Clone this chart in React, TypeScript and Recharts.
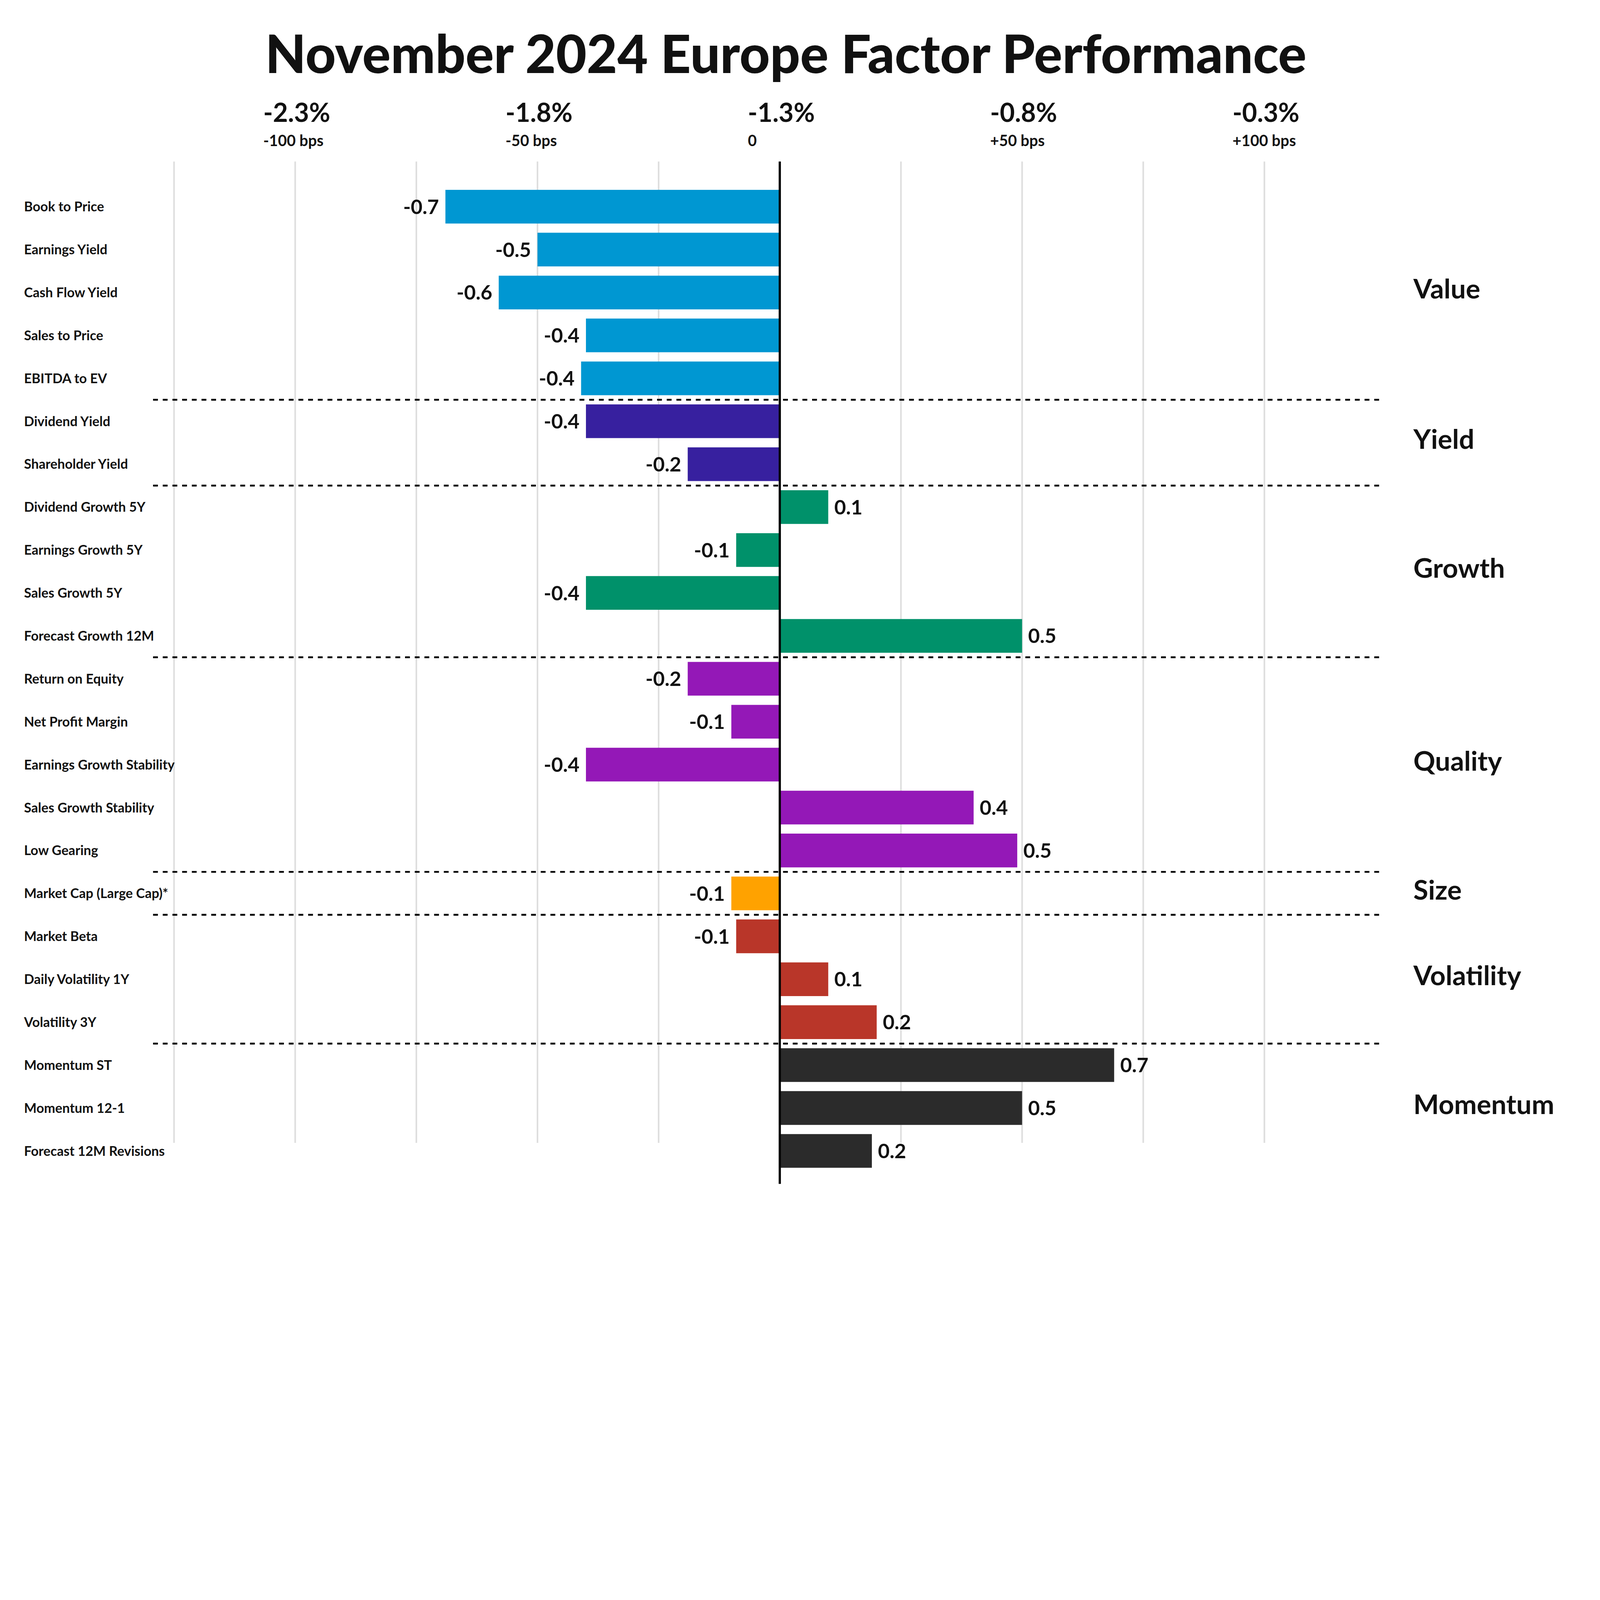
import {
  BarChart, Bar, XAxis, YAxis, Cell, LabelList, ReferenceLine, CartesianGrid,
} from "recharts";

// factor names, top to bottom
const factors = [
  "Book to Price", "Earnings Yield", "Cash Flow Yield", "Sales to Price", "EBITDA to EV",
  "Dividend Yield", "Shareholder Yield",
  "Dividend Growth 5Y", "Earnings Growth 5Y", "Sales Growth 5Y", "Forecast Growth 12M",
  "Return on Equity", "Net Profit Margin", "Earnings Growth Stability", "Sales Growth Stability", "Low Gearing",
  "Market Cap (Large Cap)*",
  "Market Beta", "Daily Volatility 1Y", "Volatility 3Y",
  "Momentum ST", "Momentum 12-1", "Forecast 12M Revisions",
];

// relative return vs. market, in %
const returns = [
  -0.69, -0.5, -0.58, -0.4, -0.41,
  -0.4, -0.19,
  0.1, -0.09, -0.4, 0.5,
  -0.19, -0.1, -0.4, 0.4, 0.49,
  -0.1,
  -0.09, 0.1, 0.2,
  0.69, 0.5, 0.19,
];

const groupNames = ["Value", "Yield", "Growth", "Quality", "Size", "Volatility", "Momentum"];
const groupSizes = [5, 2, 4, 5, 1, 3, 3];
const groupColors = ["#0097D2", "#37209F", "#00916A", "#9418B7", "#FFA200", "#B93629", "#2B2B2B"];

// top axis: grid every 25 bps, labels every 50 bps
const gridTicks = [-1.25, -1, -0.75, -0.5, -0.25, 0, 0.25, 0.5, 0.75, 1];
const axisTicks = [-1, -0.5, 0, 0.5, 1];
const pctLabels = ["-2.3%", "-1.8%", "-1.3%", "-0.8%", "-0.3%"];
const bpsLabels = ["-100 bps", "-50 bps", "0", "+50 bps", "+100 bps"];

// layout is drawn in reference pixels, then scaled to the window
const W = 7924;
const H = 6044;
const VIEW_W = typeof document !== "undefined" ? document.documentElement.clientWidth || window.innerWidth : W;
const VIEW_H = typeof document !== "undefined" ? document.documentElement.clientHeight || window.innerHeight : H;
const K = Math.min(VIEW_W / W, VIEW_H / H);

const FONT = "Lato, 'Open Sans', sans-serif";
const INK = "#111111";

// build rows + group lookups
const rowGroup: number[] = [];
groupSizes.forEach((n, g) => { for (let i = 0; i < n; i++) rowGroup.push(g); });

const data = factors.map((name, i) => ({ name, value: returns[i], group: rowGroup[i] }));

const groupStarts = groupSizes.map((_, g) => groupSizes.slice(0, g).reduce((a, b) => a + b, 0));

const groupLabels = groupNames.map((label, g) => {
  const start = groupStarts[g];
  const n = groupSizes[g];
  return n % 2 === 1
    ? { label, row: factors[start + (n - 1) / 2], pos: "middle" }
    : { label, row: factors[start + n / 2], pos: "start" };
});

const TopTick = (props: any) => {
  const { x, payload } = props;
  const i = axisTicks.indexOf(payload.value);
  if (i < 0) return <g />;
  return (
    <g>
      <text x={x - 158} y={604} fontFamily={FONT} fontWeight={700} fontSize={128} fill={INK}>
        {pctLabels[i]}
      </text>
      <text x={x - 158} y={723} fontFamily={FONT} fontWeight={700} fontSize={76} fill={INK}>
        {bpsLabels[i]}
      </text>
    </g>
  );
};

const FactorTick = (props: any) => {
  const { y, payload } = props;
  return (
    <text x={119} y={y} dy="0.36em" fontFamily={FONT} fontWeight={700} fontSize={66} fill={INK}>
      {payload.value}
    </text>
  );
};

const ValueLabel = (props: any) => {
  const { x, y, width, height, value } = props;
  const left = Math.min(x, x + width);
  const right = Math.max(x, x + width);
  const neg = value < 0;
  return (
    <text
      x={neg ? left - 32 : right + 30}
      y={y + height / 2}
      dy="0.36em"
      textAnchor={neg ? "end" : "start"}
      fontFamily={FONT}
      fontWeight={700}
      fontSize={100}
      fill={INK}
    >
      {value.toFixed(1)}
    </text>
  );
};

const GroupLabel = (props: any) => {
  const { viewBox, text } = props;
  if (!viewBox) return null;
  return (
    <text
      x={viewBox.x + viewBox.width + 165}
      y={viewBox.y - 18}
      dy="0.36em"
      fontFamily={FONT}
      fontWeight={700}
      fontSize={134}
      fill={INK}
    >
      {text}
    </text>
  );
};

const App = () => {
  return (
    <div style={{ position: "absolute", left: 0, top: 0, width: W * K, height: H * K, overflow: "hidden", background: "#fff" }}>
      <div style={{ position: "absolute", left: 0, top: 0, width: W, height: H, transform: `scale(${K})`, transformOrigin: "0 0", fontFamily: FONT }}>
        <div
          style={{
            position: "absolute", left: 0, top: 130, width: 7784, textAlign: "center",
            fontSize: 262, lineHeight: 1, fontWeight: 900, color: INK, whiteSpace: "nowrap",
          }}
        >
          November 2024 Europe Factor Performance
        </div>

        <BarChart
          width={W}
          height={H}
          data={data}
          layout="vertical"
          margin={{ top: 400, right: 1089, bottom: 181, left: 0 }}
        >
          <CartesianGrid
            horizontal={false}
            syncWithTicks
            stroke="#dedede"
            strokeWidth={8}
            y={800}
            height={4860}
          />
          <XAxis
            type="number"
            orientation="top"
            domain={[-1.2933, 1.2388]}
            ticks={gridTicks}
            height={400}
            axisLine={false}
            tickLine={false}
            tick={<TopTick />}
            interval={0}
            allowDataOverflow
          />
          <YAxis
            type="category"
            dataKey="name"
            width={758}
            axisLine={false}
            tickLine={false}
            tick={<FactorTick />}
            interval={0}
            padding={{ top: 117, bottom: 57 }}
          />

          <Bar dataKey="value" barSize={167} isAnimationActive={false}>
            {data.map((d) => (
              <Cell key={d.name} fill={groupColors[d.group]} />
            ))}
            <LabelList dataKey="value" content={<ValueLabel />} />
          </Bar>

          {groupStarts.slice(1).map((s) => (
            <ReferenceLine
              key={"sep" + s}
              y={factors[s]}
              position="start"
              stroke="#000"
              strokeWidth={9}
              strokeDasharray="24 24"
            />
          ))}

          {groupLabels.map((gl) => (
            <ReferenceLine
              key={"lab" + gl.label}
              y={gl.row}
              position={gl.pos as any}
              stroke="none"
              label={(p: any) => <GroupLabel {...p} text={gl.label} />}
            />
          ))}

          <ReferenceLine x={0} stroke="#000" strokeWidth={11} />
        </BarChart>
      </div>
    </div>
  );
};

export default App;
